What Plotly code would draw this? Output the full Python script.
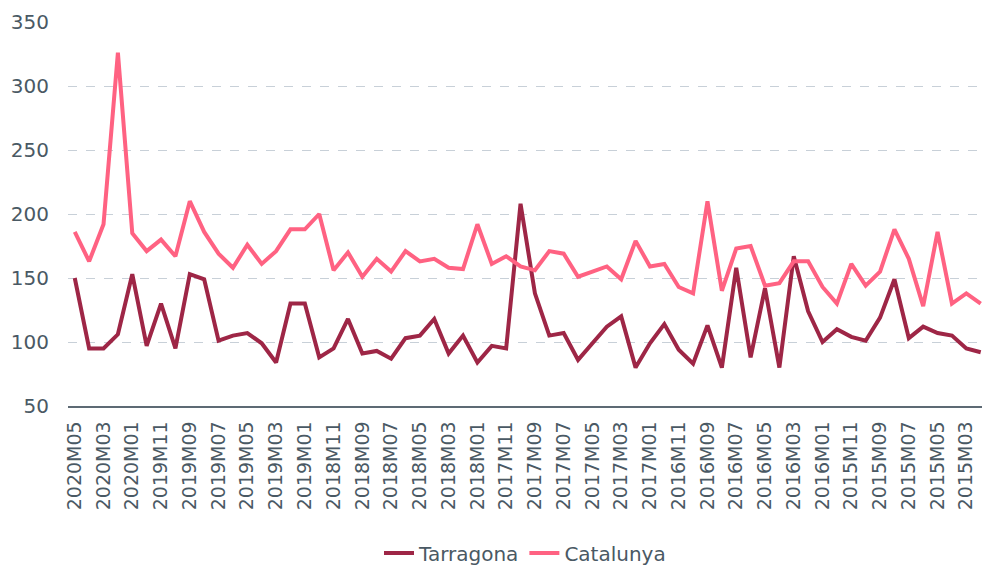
import plotly.graph_objects as go

months = []
for y in range(2020, 2014, -1):
    for m in range(12, 0, -1):
        if (y == 2020 and m > 5) or (y == 2015 and m < 2):
            continue
        months.append(f"{y}M{m:02d}")

tarragona = [150, 95, 95, 106, 153, 97, 130, 95, 153, 149,
             101, 105, 107, 99, 84, 130, 130, 88, 95, 118,
             91, 93, 87, 103, 105, 118, 91, 105, 84, 97,
             95, 208, 138, 105, 107, 86, 99, 112, 120, 80,
             99, 114, 94, 83, 113, 80, 158, 88, 142, 80,
             167, 124, 100, 110, 104, 101, 119, 149, 103, 112,
             107, 105, 95, 92]

catalunya = [186, 163, 192, 326, 185, 171, 180, 167, 210, 186,
             169, 158, 176, 161, 171, 188, 188, 200, 156, 170,
             151, 165, 155, 171, 163, 165, 158, 157, 192, 161,
             167, 159, 156, 171, 169, 151, 155, 159, 149, 179,
             159, 161, 143, 138, 210, 140, 173, 175, 144, 146,
             163, 163, 143, 130, 161, 144, 155, 188, 165, 128,
             186, 130, 138, 130]

tick_labels = months[::2]

font_family = "DejaVu Sans, sans-serif"
text_color = "#4a5964"

fig = go.Figure()
fig.add_trace(go.Scatter(x=months, y=tarragona, name="Tarragona", mode="lines",
                         line=dict(color="#9E2646", width=4)))
fig.add_trace(go.Scatter(x=months, y=catalunya, name="Catalunya", mode="lines",
                         line=dict(color="#FF6282", width=4)))

fig.update_layout(
    width=982, height=567,
    margin=dict(l=68, r=0, t=22, b=161, autoexpand=False),
    paper_bgcolor="white", plot_bgcolor="white",
    font=dict(family=font_family, size=19, color=text_color),
    showlegend=True,
    legend=dict(orientation="h", x=0.5, xanchor="center", y=-0.383, yanchor="middle",
                font=dict(size=20, color=text_color)),
    xaxis=dict(type="category", range=[-0.47, 63.09], automargin=False,
               tickmode="array", tickvals=tick_labels, ticktext=tick_labels,
               tickangle=-90, showgrid=False, showline=True, linecolor="#5d6a74",
               linewidth=1.5, ticks="", ticklabelstandoff=6,
               tickfont=dict(size=19, color=text_color)),
    yaxis=dict(range=[50, 350], tickvals=[50, 100, 150, 200, 250, 300, 350],
               automargin=False,
               showgrid=True, gridcolor="#c8d0d8", griddash="dash", gridwidth=1,
               zeroline=False, showline=False, ticks="", ticklabelstandoff=18,
               tickfont=dict(size=20, color=text_color)),
)

fig.write_html("out.html", config={"displayModeBar": False},
               post_script="document.body.style.margin='0';document.body.style.padding='0';")
